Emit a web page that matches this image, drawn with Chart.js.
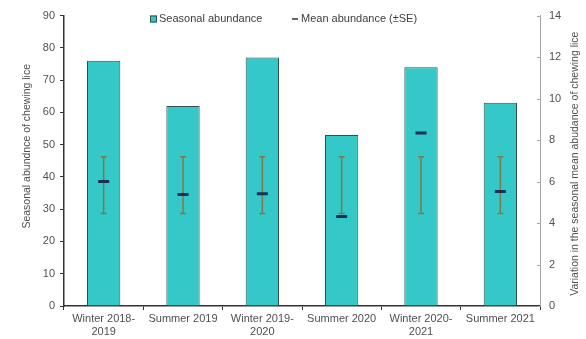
<!DOCTYPE html>
<html>
<head>
<meta charset="utf-8">
<script src="https://cdn.jsdelivr.net/npm/chart.js@4/dist/chart.umd.min.js"></script>
<style>
  html, body { margin: 0; padding: 0; background: #fff; }
  #wrap { width: 586px; height: 339px; position: relative; }
</style>
</head>
<body>
<div id="wrap"><canvas id="c" width="586" height="339"></canvas></div>
<script>
// Seasons on the x axis (multi-line labels for the winter periods)
const seasons = [
  ['Winter 2018-', '2019'],
  'Summer 2019',
  ['Winter 2019-', '2020'],
  'Summer 2020',
  ['Winter 2020-', '2021'],
  'Summer 2021'
];

// Seasonal abundance of chewing lice (left axis)
const seasonalAbundance = [76, 62, 77, 53, 74, 63];

// Seasonal mean abundance (right axis) with its SE range
const meanAbundance = [6.0, 5.38, 5.41, 4.31, 8.34, 5.52];
const seLow  = [4.46, 4.46, 4.46, 4.46, 4.46, 4.46];
const seHigh = [7.19, 7.19, 7.19, 7.19, 7.19, 7.19];

// Axis ranges and titles
const leftTicks = { min: 0, max: 90, step: 10 };
const rightTicks = { min: 0, max: 14, step: 2 };
const leftTitle = 'Seasonal abundnce of chewing lice';
const rightTitle = 'Variation in the seasonal mean abudance of chewing lice';

const FONT = "'Liberation Sans', Arial, sans-serif";
const TEXT = '#505050';
const BAR_FILL = '#34C8C8';
const BAR_EDGE = '#2F4F4F';
const SE_COLOR = '#7D7A4A';
const MEAN_COLOR = '#1B2F5A';

// SE whiskers drawn against the right axis, after the bars and before the mean markers
const errorBars = {
  id: 'errorBars',
  afterDatasetDraw(chart, args) {
    if (args.index !== 0) return;
    const ctx = chart.ctx, x = chart.scales.x, y2 = chart.scales.y2;
    ctx.save();
    ctx.strokeStyle = SE_COLOR;
    ctx.lineWidth = 1.5;
    seLow.forEach((lo, i) => {
      const px = x.getPixelForValue(i);
      const yLo = y2.getPixelForValue(lo);
      const yHi = y2.getPixelForValue(seHigh[i]);
      ctx.beginPath();
      ctx.moveTo(px, yLo); ctx.lineTo(px, yHi);
      ctx.moveTo(px - 3, yLo); ctx.lineTo(px + 3, yLo);
      ctx.moveTo(px - 3, yHi); ctx.lineTo(px + 3, yHi);
      ctx.stroke();
    });
    ctx.restore();
  }
};

// Axis titles, inward ticks on the right axis and the legend row
const decorations = {
  id: 'decorations',
  afterDraw(chart) {
    const ctx = chart.ctx, area = chart.chartArea, y2 = chart.scales.y2;
    ctx.save();
    ctx.font = '10.5px ' + FONT;
    ctx.fillStyle = TEXT;
    ctx.textAlign = 'center';
    ctx.textBaseline = 'middle';

    ctx.save();
    ctx.translate(27, area.top + (area.bottom - area.top) * 0.45);
    ctx.rotate(-Math.PI / 2);
    ctx.fillText(leftTitle, 0, 0);
    ctx.restore();

    ctx.save();
    ctx.translate(575, area.top + (area.bottom - area.top) * 0.51);
    ctx.rotate(-Math.PI / 2);
    ctx.fillText(rightTitle, 0, 0);
    ctx.restore();

    ctx.strokeStyle = '#A6A6A6';
    ctx.lineWidth = 1;
    y2.ticks.forEach(t => {
      const py = Math.round(y2.getPixelForValue(t.value)) + 0.5;
      ctx.beginPath();
      ctx.moveTo(area.right - 3, py); ctx.lineTo(area.right, py);
      ctx.stroke();
    });

    // legend
    ctx.font = '11px ' + FONT;
    const ds = chart.data.datasets;
    const ly = 19;
    ctx.textAlign = 'left';
    ctx.fillStyle = BAR_FILL;
    ctx.strokeStyle = BAR_EDGE;
    ctx.fillRect(area.left + 86, ly - 3.5, 7, 7);
    ctx.strokeRect(area.left + 86.5, ly - 3, 6, 6);
    ctx.fillStyle = '#404040';
    ctx.fillText(ds[0].label, area.left + 95, ly);
    ctx.strokeStyle = '#333';
    ctx.lineWidth = 1.5;
    ctx.beginPath();
    ctx.moveTo(area.left + 228, ly); ctx.lineTo(area.left + 234, ly);
    ctx.stroke();
    ctx.fillText(ds[1].label, area.left + 237, ly);
    ctx.restore();
  }
};

new Chart(document.getElementById('c'), {
  type: 'bar',
  data: {
    labels: seasons,
    datasets: [
      {
        type: 'bar',
        label: 'Seasonal abundance',
        data: seasonalAbundance,
        yAxisID: 'y',
        backgroundColor: BAR_FILL,
        borderColor: BAR_EDGE,
        borderWidth: 1,
        barPercentage: 0.42,
        categoryPercentage: 1,
        order: 2
      },
      {
        type: 'line',
        label: 'Mean abundance (\u00B1SE)',
        data: meanAbundance,
        yAxisID: 'y2',
        showLine: false,
        pointStyle: 'line',
        pointRadius: 5.5,
        pointBorderWidth: 3,
        borderColor: MEAN_COLOR,
        backgroundColor: MEAN_COLOR,
        order: 1
      }
    ]
  },
  options: {
    responsive: false,
    animation: false,
    devicePixelRatio: 1,
    layout: { padding: { top: 13, left: 0, right: 0, bottom: 0 } },
    plugins: { legend: { display: false }, tooltip: { enabled: false } },
    scales: {
      x: {
        offset: true,
        grid: { display: true, offset: true, drawOnChartArea: false, drawTicks: true, tickLength: 4, color: '#333' },
        border: { color: '#333', width: 1.5 },
        ticks: { font: { family: FONT, size: 11 }, color: TEXT, maxRotation: 0, autoSkip: false, padding: 2 },
        afterFit(s) { s.height = 33; }
      },
      y: {
        position: 'left',
        min: leftTicks.min, max: leftTicks.max,
        grid: { drawOnChartArea: false, drawTicks: true, tickLength: 4, color: '#333' },
        border: { color: '#333', width: 1.5 },
        ticks: { stepSize: leftTicks.step, font: { family: FONT, size: 11 }, color: TEXT, padding: 5 },
        afterFit(s) { s.width = 64; }
      },
      y2: {
        position: 'right',
        min: rightTicks.min, max: rightTicks.max,
        grid: { drawOnChartArea: false, drawTicks: false },
        border: { color: '#A6A6A6', width: 1 },
        ticks: { stepSize: rightTicks.step, font: { family: FONT, size: 11 }, color: TEXT, padding: 9 },
        afterFit(s) { s.width = 46; }
      }
    }
  },
  plugins: [errorBars, decorations]
});
</script>
</body>
</html>
